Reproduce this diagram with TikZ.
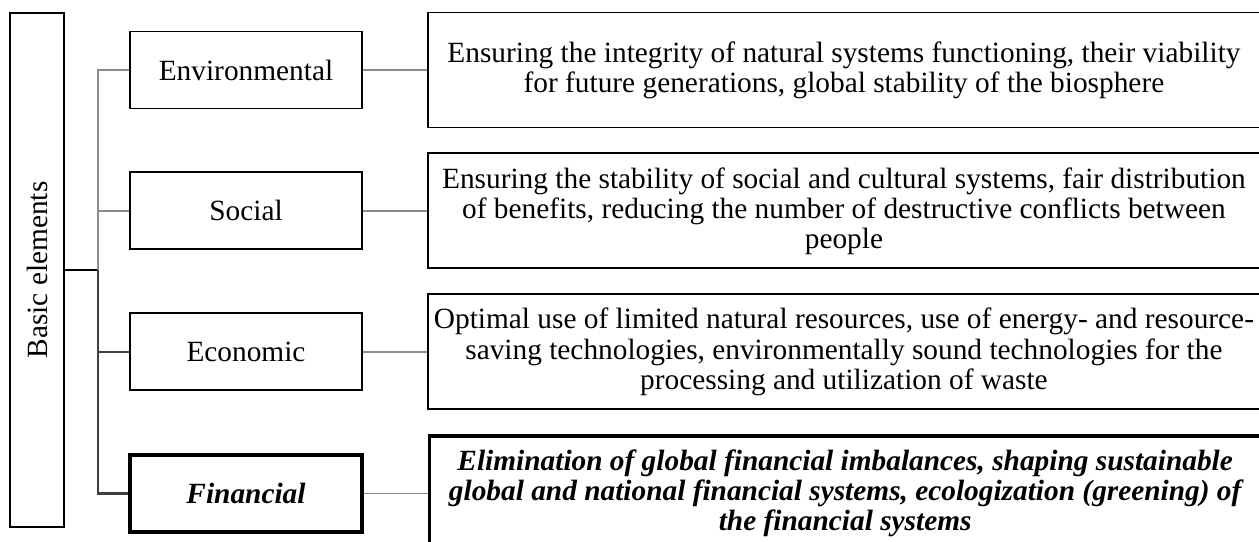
\documentclass[tikz,border=0pt]{standalone}
\usepackage{fontspec}
\setmainfont{Liberation Serif}
\usepackage{tikz}
\usetikzlibrary{positioning}
\usepackage{xcolor}
\definecolor{linegray}{gray}{0.55}
\definecolor{linedark}{gray}{0.25}
\tikzstyle{elem}=[draw,line width=1.1pt,rectangle,inner sep=0,minimum width=4.64cm,minimum height=1.54cm,font=\fontsize{16.7}{17.1}\selectfont]
\tikzstyle{descr}=[draw,line width=1.1pt,rectangle,inner sep=0,minimum width=16.64cm,minimum height=2.3cm,align=center,font=\fontsize{16.7}{17.1}\selectfont]

\begin{document}
\begin{tikzpicture}[node distance={1.24cm}, fin/.style = {line width=1.8pt, font=\fontsize{16.7}{17.1}\selectfont\bfseries\itshape}]
	\useasboundingbox (0,0) rectangle (25.18,-10.82);
	\node[draw, line width=1.1pt, minimum width=10.28cm, minimum height=1.08cm, inner sep=0, rotate=90, font=\fontsize{16.7}{17.1}\selectfont] (be) at (0.74,-5.4) {Basic elements};
	% middle column
	\node[elem] (env) at (4.92,-1.4) {Environmental};
	\node[elem] (soc) [below=of env] {Social};
	\node[elem] (eco) [below=of soc] {Economic};
	\node[elem, fin] (fin) [below=of eco] {Financial};
	% descriptions
	\node[descr] (envd) [right=1.28cm of env] {Ensuring the integrity of natural systems functioning, their viability\\for future generations, global stability of the biosphere};
	\node[descr] (socd) [right=1.28cm of soc] {Ensuring the stability of social and cultural systems, fair distribution\\of benefits, reducing the number of destructive conflicts between\\people};
	\node[descr] (ecod) [right=1.28cm of eco] {Optimal use of limited natural resources, use of energy- and resource-\\saving technologies, environmentally sound technologies for the\\processing and utilization of waste};
	\node[descr, fin] (find) [right=1.28cm of fin] {Elimination of global financial imbalances, shaping sustainable\\global and national financial systems, ecologization (greening) of\\the financial systems};
	% tree
	\coordinate (j) at (1.96,-5.4);
	\draw[line width=1.3pt] (be) -- (j);
	\draw[linegray, line width=0.9pt] (j) |- (env.west);
	\draw[linegray, line width=0.9pt] (j) |- (soc.west);
	\draw[linedark, line width=0.9pt] (j) |- (eco.west);
	\draw[linedark, line width=1.3pt] (j) |- (fin.west);
	\draw[linegray, line width=0.9pt] (env) -- (envd);
	\draw[linegray, line width=0.9pt] (soc) -- (socd);
	\draw[linegray, line width=0.9pt] (eco) -- (ecod);
	\draw[linegray, line width=0.9pt] (fin) -- (find);
\end{tikzpicture}
\end{document}
